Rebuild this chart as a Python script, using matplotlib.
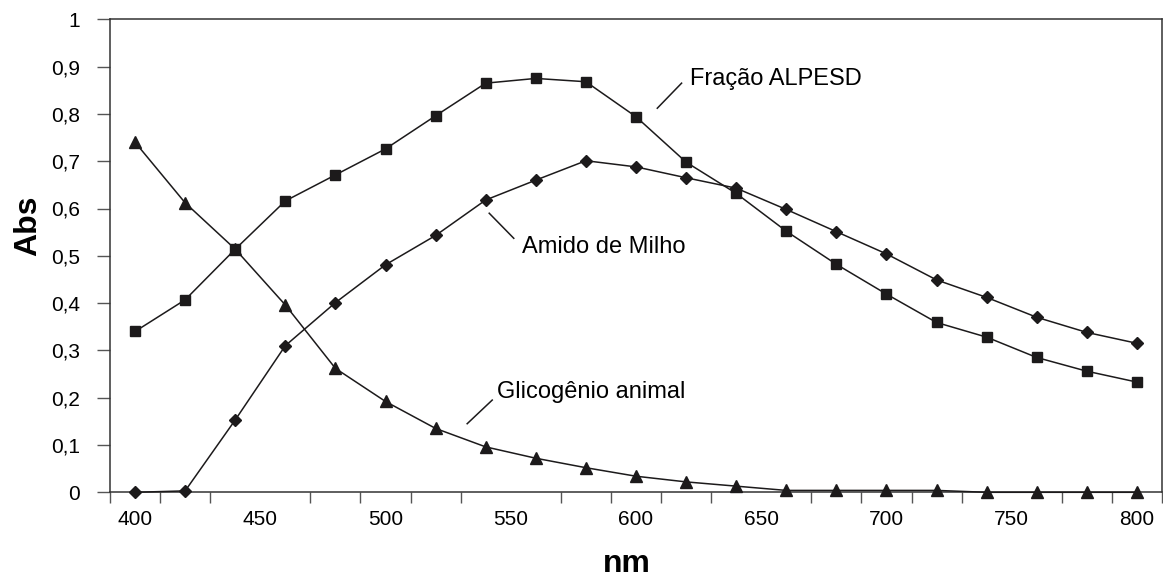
import numpy as np
import matplotlib
matplotlib.use("Agg")
import matplotlib.pyplot as plt
from matplotlib.ticker import FuncFormatter, FixedLocator

plt.rcParams['font.family'] = ['Liberation Sans', 'DejaVu Sans']

wavelength = [400, 420, 440, 460, 480, 500, 520, 540, 560, 580, 600,
              620, 640, 660, 680, 700, 720, 740, 760, 780, 800]
fracao_alpesd = [0.340, 0.407, 0.514, 0.616, 0.671, 0.726, 0.796, 0.865, 0.875, 0.868, 0.794,
                 0.698, 0.632, 0.552, 0.482, 0.419, 0.359, 0.328, 0.285, 0.256, 0.233]
amido_milho = [0.000, 0.003, 0.153, 0.310, 0.401, 0.481, 0.543, 0.618, 0.660, 0.701, 0.688,
               0.665, 0.643, 0.598, 0.551, 0.504, 0.449, 0.412, 0.370, 0.338, 0.315]
glicogenio = [0.740, 0.612, 0.514, 0.396, 0.262, 0.192, 0.135, 0.096, 0.072, 0.052, 0.034,
              0.022, 0.013, 0.004, 0.004, 0.004, 0.004, 0.000, 0.000, 0.000, 0.000]

xticklabels = [400, 450, 500, 550, 600, 650, 700, 750, 800]
yticks = [0, 0.1, 0.2, 0.3, 0.4, 0.5, 0.6, 0.7, 0.8, 0.9, 1.0]

W, H = 1163, 578
fig = plt.figure(figsize=(W / 100, H / 100), dpi=100)
ax = fig.add_axes([110 / W, 1 - 492.3 / H, (1162 - 110) / W, (492.3 - 19.3) / H])

ink = '#1c1a1b'
common = dict(color=ink, lw=1.1, clip_on=False, zorder=5, markeredgecolor=ink, markerfacecolor=ink)
ax.plot(wavelength, fracao_alpesd, marker='s', ms=7.8, **common)
ax.plot(wavelength, amido_milho, marker='D', ms=6.5, **common)
ax.plot(wavelength, glicogenio, marker='^', ms=9.2, **common)

ax.set_xlim(390, 810)
ax.set_ylim(0, 1)

# x: labels every 50 (no marks), tick marks between categories every 20
ax.set_xticks(xticklabels)
ax.set_xticklabels([str(v) for v in xticklabels], fontsize=15)
ax.tick_params(axis='x', which='major', length=0, pad=13)
ax.xaxis.set_minor_locator(FixedLocator(np.arange(390, 811, 20)))
ax.tick_params(axis='x', which='minor', length=8, width=1.0, color='#555555', direction='out')

ax.set_yticks(yticks)
ax.yaxis.set_major_formatter(FuncFormatter(lambda v, p: ('%g' % round(v, 1)).replace('.', ',')))
ax.tick_params(axis='y', which='major', length=9.5, width=1.0, color='#555555', direction='out',
               labelsize=15, pad=12)

for s in ax.spines.values():
    s.set_linewidth(1.1)
    s.set_color('#333333')

fig.text(28 / W, 1 - 226 / H, 'Abs', rotation=90, ha='center', va='center',
         fontsize=23, fontweight='bold')
fig.text(627 / W, 1 - 564 / H, 'nm', ha='center', va='center',
         fontsize=23, fontweight='bold')

# annotations
ax.text(621.6, 0.861, 'Fração ALPESD', fontsize=17, ha='left', va='baseline')
ax.plot([608.5, 618.2], [0.812, 0.865], color=ink, lw=1.1)
ax.text(554.4, 0.5066, 'Amido de Milho', fontsize=17, ha='left', va='baseline')
ax.plot([541.4, 551.2], [0.590, 0.537], color=ink, lw=1.1)
ax.text(544.6, 0.2004, 'Glicogênio animal', fontsize=17, ha='left', va='baseline')
ax.plot([532.6, 542.6], [0.145, 0.195], color=ink, lw=1.1)

fig.savefig('out.png', dpi=100)
